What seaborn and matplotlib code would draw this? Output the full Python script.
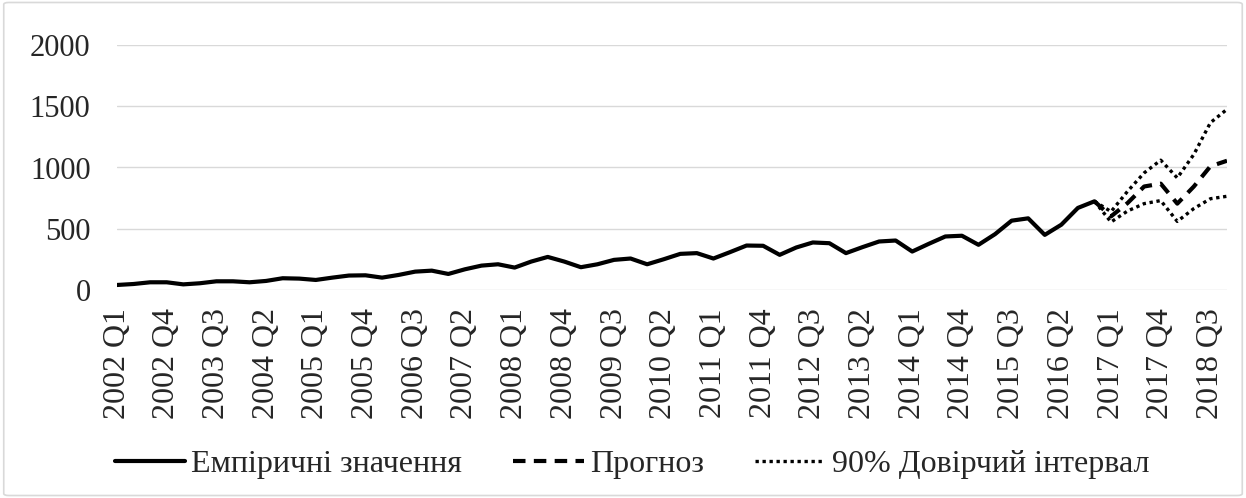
import pandas as pd
import matplotlib.pyplot as plt
import seaborn as sns
from matplotlib.patches import FancyBboxPatch

# ---------- Data ----------
quarters = [f"{year} Q{q}" for year in range(2002, 2019) for q in range(1, 5)]

# empirical values, 2002 Q1 .. 2016 Q4
empirical = [41, 49, 63, 63, 46, 55, 71, 71, 63, 74, 96, 93, 82, 101, 118, 120,
             101, 123, 150, 158, 131, 169, 199, 210, 183, 232, 270, 232, 186, 210, 246, 257,
             210, 251, 295, 301, 257, 309, 363, 361, 287, 347, 388, 382, 301, 350, 396, 404,
             314, 377, 437, 443, 369, 456, 566, 585, 450, 533, 670, 724]

# forecast and 90% interval, 2016 Q4 .. 2018 Q4
forecast = [724, 601, 710, 845, 868, 705, 845, 1010, 1055]
upper = [724, 640, 806, 956, 1060, 915, 1107, 1366, 1475]
lower = [724, 555, 645, 705, 730, 560, 665, 745, 765]

label_emp = "Емпіричні значення"
label_fc = "Прогноз"
label_ci = "90% Довірчий інтервал"

# ---------- Plot ----------
sns.set_theme(style="white")
plt.rcParams['font.family'] = ['Liberation Serif', 'DejaVu Serif']

n_emp = len(empirical)
df_emp = pd.DataFrame({'x': range(n_emp), 'y': empirical})
fc_x = range(n_emp - 1, n_emp - 1 + len(forecast))
df_fc = pd.DataFrame({'x': fc_x, 'forecast': forecast, 'upper': upper, 'lower': lower})

fig = plt.figure(figsize=(12.46, 4.98), dpi=100)
ax = fig.add_axes([117 / 1246, 1 - 290 / 498, 1110 / 1246, 245 / 498])

sns.lineplot(x='x', y='y', data=df_emp, ax=ax, color='black', lw=3.0, label=label_emp)
sns.lineplot(x='x', y='forecast', data=df_fc, ax=ax, color='black', lw=3.0,
             linestyle=(0, (3, 2)), label=label_fc)
sns.lineplot(x='x', y='upper', data=df_fc, ax=ax, color='black', lw=2.4,
             linestyle=(0, (1, 1.1)), label=label_ci)
sns.lineplot(x='x', y='lower', data=df_fc, ax=ax, color='black', lw=2.4,
             linestyle=(0, (1, 1.1)), label='_nolegend_')

ax.set_xlim(0, len(quarters) - 1)
ax.set_ylim(0, 2000)
ax.set_yticks([0, 500, 1000, 1500, 2000])
ax.yaxis.grid(True, color='#d9d9d9', lw=1.0)
ax.set_axisbelow(True)
ax.set_xticks(range(0, len(quarters), 3))
ax.set_xticklabels(quarters[::3], rotation=90)
ax.tick_params(axis='y', labelsize=22, pad=19, length=0)
ax.tick_params(axis='x', labelsize=23, pad=13, length=0)
ax.set_xlabel('')
ax.set_ylabel('')
for s in ax.spines.values():
    s.set_visible(False)

handles, labels = ax.get_legend_handles_labels()
ax.get_legend().remove()
fig.legend(handles, labels, loc='center', bbox_to_anchor=(632 / 1246, 34 / 498), ncol=3,
           frameon=False, fontsize=23, handlelength=2.2, handletextpad=0.2,
           columnspacing=1.6, borderaxespad=0)

# chart area border
fig.patches.append(FancyBboxPatch((0.003, 0.005), 0.994, 0.99, boxstyle='round,pad=0,rounding_size=0.004',
                                  transform=fig.transFigure, fill=False, ec='#d9d9d9', lw=1.2))

plt.savefig('out.png', dpi=100)
plt.close()
